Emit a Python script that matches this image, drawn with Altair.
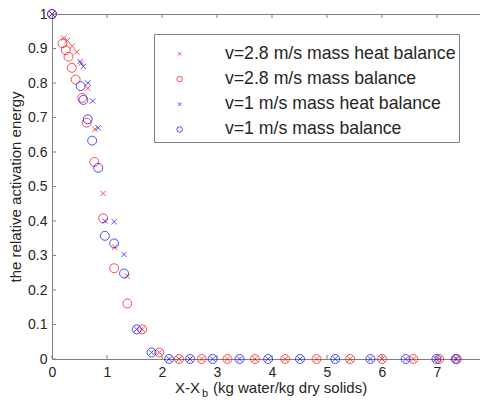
import altair as alt
import pandas as pd

# ---------------- data ----------------
SERIES = ["v=2.8 m/s mass heat balance", "v=2.8 m/s mass balance",
          "v=1 m/s mass heat balance", "v=1 m/s mass balance"]

zero_red_x = [2.31, 2.72, 3.19, 3.69, 4.24, 4.81, 5.42, 6.0, 6.57, 7.04, 7.36]
zero_blue_x = [2.13, 2.51, 2.92, 3.41, 3.93, 4.51, 5.15, 5.79, 6.43, 6.99, 7.34]

r_heat_x = [0, 0.21, 0.28, 0.37, 0.45, 0.53, 0.65, 0.78, 0.93, 1.14, 1.37, 1.64, 1.95] + zero_red_x
r_heat_y = [1, 0.93, 0.923, 0.907, 0.89, 0.857, 0.785, 0.666, 0.48, 0.324, 0.24, 0.086, 0.019] + [0] * 11

r_mass_x = [0, 0.19, 0.25, 0.30, 0.36, 0.43, 0.55, 0.63, 0.77, 0.93, 1.13, 1.37, 1.64, 1.95] + zero_red_x
r_mass_y = [1, 0.915, 0.895, 0.876, 0.844, 0.81, 0.757, 0.685, 0.571, 0.408, 0.263, 0.161, 0.086, 0.019] + [0] * 11

b_heat_x = [0, 0.51, 0.57, 0.65, 0.74, 0.84, 0.96, 1.13, 1.31, 1.54, 1.81] + zero_blue_x
b_heat_y = [1, 0.862, 0.848, 0.80, 0.748, 0.670, 0.40, 0.398, 0.303, 0.086, 0.019] + [0] * 11

b_mass_x = [0, 0.52, 0.57, 0.65, 0.73, 0.84, 0.96, 1.13, 1.31, 1.54, 1.81] + zero_blue_x
b_mass_y = [1, 0.791, 0.751, 0.695, 0.633, 0.554, 0.357, 0.335, 0.248, 0.086, 0.019] + [0] * 11

X_TICKS = [0, 1, 2, 3, 4, 5, 6, 7]
Y_TICKS = [0, 0.1, 0.2, 0.3, 0.4, 0.5, 0.6, 0.7, 0.8, 0.9, 1]
X_MAX = 7.782

# ---------------- build table ----------------
rows = []
for name, xs, ys in [(SERIES[0], r_heat_x, r_heat_y), (SERIES[1], r_mass_x, r_mass_y),
                     (SERIES[2], b_heat_x, b_heat_y), (SERIES[3], b_mass_x, b_mass_y)]:
    for a, b in zip(xs, ys):
        rows.append({"x": a, "y": b, "series": name, "order": SERIES.index(name)})
df = pd.DataFrame(rows)

W, H = 428, 345
FONT = "Liberation Sans"
AX = "#7f7f7f"
TXT = "#262626"
XPATH = "M-0.6,-0.6L0.6,0.6M-0.6,0.6L0.6,-0.6"

xscale = alt.Scale(domain=[0, X_MAX], nice=False, zero=False)
yscale = alt.Scale(domain=[0, 1], nice=False)
xaxis = alt.Axis(values=X_TICKS, title=None, grid=False, ticks=False, labelFontSize=14,
                 labelPadding=6, labelFont=FONT, labelColor=TXT, domainColor=AX, domainWidth=1,
                 labelFlush=False, labelOverlap=False)
yaxis = alt.Axis(values=Y_TICKS, format=".1~f", grid=False, ticks=False, labelFontSize=14,
                 labelPadding=5, labelFont=FONT, labelColor=TXT, domainColor=AX, domainWidth=1,
                 labelFlush=False, labelOverlap=False,
                 title="the relative activation energy", titleFont=FONT, titleFontSize=15,
                 titleFontWeight="normal", titleColor=TXT, titleAngle=270,
                 titleX=-37, titleY=172.5, titleBaseline="middle", titleAlign="center")

X = alt.X("x:Q", scale=xscale, axis=xaxis)
Y = alt.Y("y:Q", scale=yscale, axis=yaxis)

points = alt.Chart(df).mark_point(filled=False, strokeWidth=1, size=80).encode(
    x=X, y=Y,
    color=alt.Color("series:N", scale=alt.Scale(domain=SERIES, range=["#ff0000", "#ff0000", "#0000ff", "#0000ff"]),
                    legend=alt.Legend(orient="none", legendX=102, legendY=20, title=" ",
                                      titleFontSize=1, titlePadding=7,
                                      padding=3, strokeColor=AX, fillColor="white", cornerRadius=0,
                                      labelFontSize=17.7, labelFont=FONT, labelColor=TXT, labelLimit=600,
                                      symbolSize=30, symbolStrokeWidth=1, symbolOffset=13.75,
                                      labelOffset=36.5, rowPadding=6.2)),
    shape=alt.Shape("series:N", scale=alt.Scale(domain=SERIES, range=[XPATH, "circle", XPATH, "circle"]),
                    legend=None),
    order=alt.Order("order:Q"),
)

xt = pd.DataFrame({"x": X_TICKS})
xt_top = pd.DataFrame({"x": X_TICKS[1:]})
yt = pd.DataFrame({"y": Y_TICKS})

bottom_ticks = alt.Chart(xt).mark_rule(color=AX, strokeWidth=1).encode(
    x=X, y=alt.value(H - 4), y2=alt.value(H))
top_ticks = alt.Chart(xt_top).mark_rule(color=AX, strokeWidth=1).encode(
    x=X, y=alt.value(0), y2=alt.value(4))
left_ticks = alt.Chart(yt).mark_rule(color=AX, strokeWidth=1).encode(
    y=Y, x=alt.value(0), x2=alt.value(4))
top_line = alt.Chart(pd.DataFrame({"a": [0]})).mark_rule(color=AX, strokeWidth=1).encode(
    x=alt.value(0), x2=alt.value(W), y=alt.value(0.5))

TITLE_PARTS = ["X-X", "b", "(kg water/kg dry solids)"]
t1 = alt.Chart(pd.DataFrame({"t": [TITLE_PARTS[0]]})).mark_text(
    align="right", baseline="alphabetic", font=FONT, fontSize=15, color=TXT).encode(
    text="t:N", x=alt.value(148), y=alt.value(379))
t2 = alt.Chart(pd.DataFrame({"t": [TITLE_PARTS[1]]})).mark_text(
    align="left", baseline="alphabetic", font=FONT, fontSize=11, color=TXT).encode(
    text="t:N", x=alt.value(150), y=alt.value(382.5))
t3 = alt.Chart(pd.DataFrame({"t": [TITLE_PARTS[2]]})).mark_text(
    align="left", baseline="alphabetic", font=FONT, fontSize=15, color=TXT).encode(
    text="t:N", x=alt.value(161), y=alt.value(379))

chart = alt.layer(points, bottom_ticks, top_ticks, left_ticks, top_line, t1, t2, t3).properties(
    width=W, height=H,
    autosize=alt.AutoSizeParams(type="none"),
    padding={"left": 44, "top": 6, "right": 0, "bottom": 39},
).configure_view(stroke=None).configure(background="white")

chart.save("out.html", embed_options={"renderer": "svg", "actions": False})
